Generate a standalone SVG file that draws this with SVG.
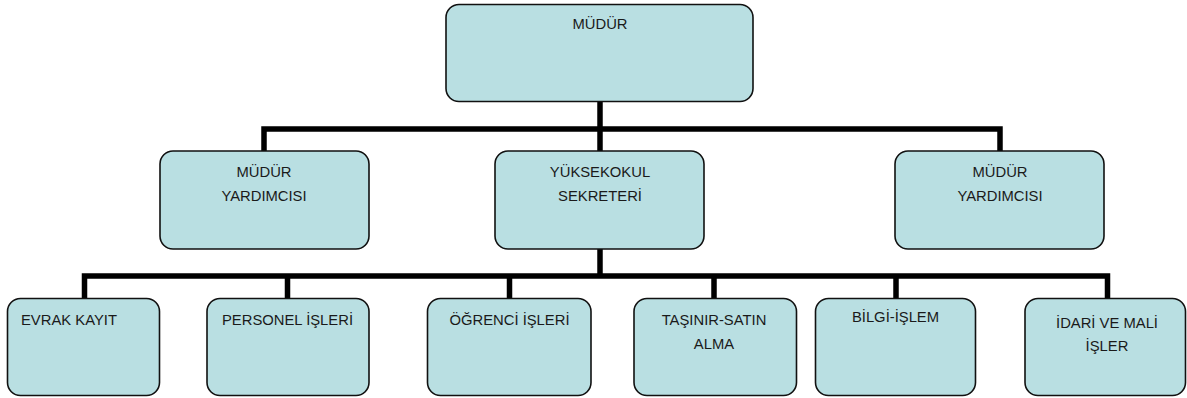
<svg xmlns="http://www.w3.org/2000/svg" width="1187" height="398" viewBox="0 0 1187 398">
<style>
.box{fill:#b9dfe2;stroke:#111;stroke-width:1.6}
.t{font-family:"Liberation Sans",Arial,sans-serif;font-size:14.8px;fill:#1a1a1a;text-anchor:middle}
.l{text-anchor:start}
.c{stroke:#000;stroke-width:5.5;fill:none;stroke-linecap:butt;stroke-linejoin:miter}
</style>
<rect width="1187" height="398" fill="#fff"/>
<g id="connectors">
<path class="c" d="M600 102V151"/>
<path class="c" d="M264 151V129H1000V151"/>
<path class="c" d="M600 249V276"/>
<path class="c" d="M84.5 298V276H1107.5V298"/>
<path class="c" d="M287.5 276V298M509.5 276V298M714 276V298M896 276V298"/>
</g>
<g id="mudur"><rect class="box" x="446" y="4.5" width="307" height="97" rx="13"/><text class="t" x="600" y="29">MÜDÜR</text></g>
<g id="yardimci-sol"><rect class="box" x="160" y="151" width="209" height="98" rx="13"/><text class="t" x="264" y="177">MÜDÜR</text><text class="t" x="264" y="201">YARDIMCISI</text></g>
<g id="sekreter"><rect class="box" x="495" y="151" width="209" height="98" rx="13"/><text class="t" x="600" y="177">YÜKSEKOKUL</text><text class="t" x="600" y="201">SEKRETERİ</text></g>
<g id="yardimci-sag"><rect class="box" x="895" y="151" width="209" height="98" rx="13"/><text class="t" x="1000" y="177">MÜDÜR</text><text class="t" x="1000" y="201">YARDIMCISI</text></g>
<g id="evrak"><rect class="box" x="7.5" y="298.5" width="152" height="97" rx="13"/><text class="t l" x="21" y="325">EVRAK KAYIT</text></g>
<g id="personel"><rect class="box" x="207" y="298.5" width="162" height="97" rx="13"/><text class="t" x="287.5" y="325">PERSONEL İŞLERİ</text></g>
<g id="ogrenci"><rect class="box" x="427.5" y="298.5" width="163.5" height="97" rx="13"/><text class="t" x="509.5" y="325">ÖĞRENCİ İŞLERİ</text></g>
<g id="tasinir"><rect class="box" x="634" y="298.5" width="162.5" height="97" rx="13"/><text class="t" x="714" y="325">TAŞINIR-SATIN</text><text class="t" x="714" y="349">ALMA</text></g>
<g id="bilgi"><rect class="box" x="815.5" y="298.5" width="160" height="97" rx="13"/><text class="t" x="895.5" y="322">BİLGİ-İŞLEM</text></g>
<g id="idari"><rect class="box" x="1025" y="298.5" width="160.5" height="97" rx="13"/><text class="t" x="1107" y="328">İDARİ VE MALİ</text><text class="t" x="1107" y="351">İŞLER</text></g>
</svg>
